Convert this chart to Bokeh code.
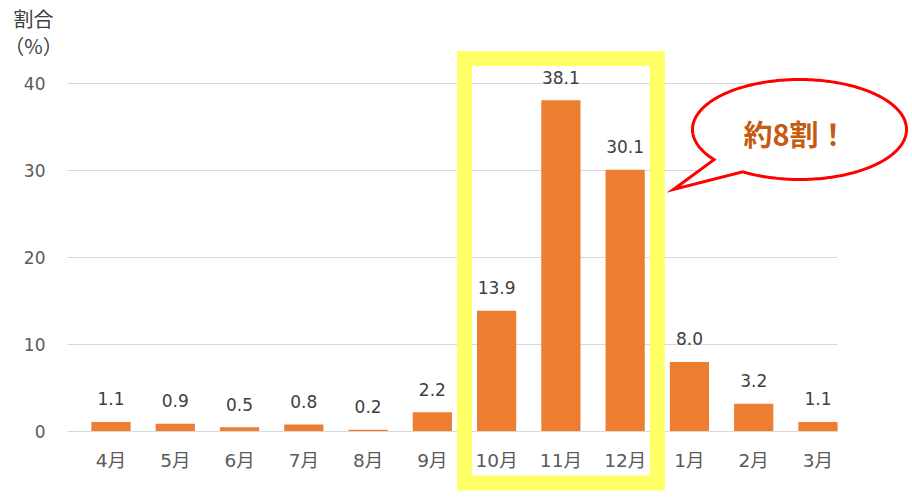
import numpy as np
from bokeh.plotting import figure
from bokeh.models import ColumnDataSource, Range1d, FixedTicker, BoxAnnotation, PolyAnnotation, Label
from bokeh.core.properties import value
from bokeh.embed import file_html
from bokeh.resources import INLINE

# ---- data ----
months = ["4月", "5月", "6月", "7月", "8月", "9月", "10月", "11月", "12月", "1月", "2月", "3月"]
shares = [1.1, 0.9, 0.5, 0.8, 0.2, 2.2, 13.9, 38.1, 30.1, 8.0, 3.2, 1.1]
y_ticks = [0, 10, 20, 30, 40]
highlight = ["10月", "11月", "12月"]
title_lines = ["割合", "（%）"]
callout_text = "約8割！"

FONT = "Noto Sans CJK JP"
NUM_FONT = "'DejaVu Sans', 'Noto Sans CJK JP'"

xs = list(range(len(months)))
labels = [f"{v:.1f}" for v in shares]
src = ColumnDataSource(dict(x=xs, y=shares, label=labels))

# layout (canvas pixels): first category centre, step per category, zero line, px per unit
W, H = 908, 495
CX0, SX = 110.5, 64.27
ZY, SY = 431.0, 8.696
PLOT_L, PLOT_R = 67, 837


def dx(px):
    return (px - CX0) / SX


def dy(py):
    return (ZY - py) / SY


p = figure(width=W, height=H, min_border=0,
           min_border_left=0, min_border_right=0, min_border_top=0, min_border_bottom=0,
           x_range=Range1d(dx(0), dx(W)), y_range=Range1d(dy(H), dy(0)),
           output_backend="svg", toolbar_location=None)
p.outline_line_color = None
p.background_fill_color = "white"
p.border_fill_color = "white"

# axes placed inside the frame
p.xaxis.fixed_location = 0
p.yaxis.fixed_location = dx(PLOT_L)
p.yaxis.ticker = FixedTicker(ticks=y_ticks)
p.xaxis.ticker = FixedTicker(ticks=xs)
p.xaxis.major_label_overrides = {i: m for i, m in enumerate(months)}
for ax in (p.xaxis[0], p.yaxis[0]):
    ax.major_tick_line_color = None
    ax.minor_tick_line_color = None
    ax.major_label_text_font = NUM_FONT
    ax.major_label_text_color = "#595959"
p.xaxis.major_label_text_font_size = "18.5px"
p.yaxis.major_label_text_font_size = "17px"
p.yaxis.axis_line_color = None
p.yaxis.major_label_standoff = 16
p.xaxis.axis_line_color = "#D9D9D9"
p.xaxis.bounds = (dx(PLOT_L), dx(PLOT_R))
p.xaxis.major_label_standoff = 12

p.xgrid.visible = False
p.ygrid.grid_line_color = "#D9D9D9"
p.ygrid.grid_line_width = 1

# keep grid lines within the plot area
for kw in (dict(right=dx(PLOT_L)), dict(left=dx(PLOT_R))):
    p.add_layout(BoxAnnotation(level="underlay", fill_color="white", fill_alpha=1.0,
                               line_color=None, line_alpha=0, **kw))

p.vbar(x="x", top="y", width=0.61, source=src, fill_color="#ED7D31", line_color=None)
p.text(x="x", y="y", text="label", source=src, text_align="center", text_baseline="middle",
       y_offset=-23, text_font=value(NUM_FONT), text_font_size="17px", text_color="#404040")

# highlight box
i0 = months.index(highlight[0])
i1 = months.index(highlight[-1])
box = BoxAnnotation(left=i0 - 0.5, right=i1 + 0.5, top=dy(58), bottom=dy(482.5),
                    fill_color=None, fill_alpha=0, line_color="#FFFF66", line_alpha=1.0,
                    line_width=15, line_join="miter")
p.add_layout(box)

# callout bubble
theta = np.radians(np.linspace(238, 577, 240))
bx = list(799 + 107 * np.cos(theta)) + [673]
by = list(129 - 50 * np.sin(theta)) + [189]
bubble = PolyAnnotation(xs=[dx(v) for v in bx], ys=[dy(v) for v in by],
                        fill_color="white", fill_alpha=1.0, line_color="#FF0000", line_alpha=1.0,
                        line_width=3, line_join="miter")
p.add_layout(bubble)
p.add_layout(Label(x=dx(795), y=dy(132), text=callout_text, text_align="center", text_baseline="middle",
                   text_font=FONT, text_font_size="29px", text_font_style="bold", text_color="#C55A11"))

# axis title
for k, t in enumerate(title_lines):
    p.add_layout(Label(x=dx(33), y=dy(18 + 27 * k), text=t, text_align="center", text_baseline="middle",
                       text_font=FONT, text_font_size="20px", text_color="#404040"))

open("out.html", "w").write(file_html(p, INLINE))
